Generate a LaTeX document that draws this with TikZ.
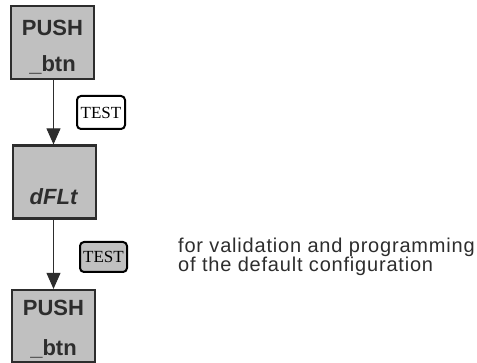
\documentclass[tikz,border=0pt]{standalone}
\usepackage{fontspec}
\setmainfont{Liberation Serif}
\setsansfont{Liberation Sans}
\newfontfamily\notefont[LetterSpace=4]{Liberation Sans}
\usetikzlibrary{arrows.meta}
\definecolor{boxgray}{RGB}{192,192,192}
\definecolor{boxedge}{RGB}{45,45,45}
\begin{document}
\begin{tikzpicture}[x=1pt,y=-1pt,
  statebox/.style={draw=boxedge,line width=2.2pt,fill=boxgray,minimum width=83pt,minimum height=73pt,inner sep=0pt,align=center,font=\sffamily\bfseries\fontsize{22}{36}\selectfont,text=boxedge},
  keybox/.style={draw=black,line width=2pt,rounded corners=4pt,inner sep=0pt,font=\rmfamily\fontsize{17}{17}\selectfont},
  flow/.style={line width=0.9pt,draw=boxedge,-{Triangle[length=16pt,width=14pt]}}]
\useasboundingbox (0,0) rectangle (477,363);
\node[statebox] (p1) at (52.5,42.5) {\rule{0pt}{24pt}PUSH\\\_btn};
\node[statebox] (d) at (54.5,182) {};
\node[font=\sffamily\bfseries\itshape\fontsize{22}{25}\selectfont,text=boxedge] (dl) at (53.5,197) {dFLt};
\node[statebox,minimum height=72pt,font=\sffamily\bfseries\fontsize{22}{40}\selectfont] (p2) at (53.5,326) {\rule{0pt}{22pt}PUSH\\\_btn};
\node[keybox,fill=white,minimum width=48pt,minimum height=33pt] (t1) at (101,112.5) {TEST};
\node[keybox,fill=boxgray,minimum width=47pt,minimum height=30pt] (t2) at (103.5,257) {TEST};
\draw[flow] (p1.south -| 53.5,0) -- (d.north -| 53.5,0);
\draw[flow] (d.south -| 53.5,0) -- (p2.north -| 53.5,0);
\node[anchor=west,align=left,font=\notefont\fontsize{20}{19}\selectfont,text=boxedge,inner sep=0pt] (txt) at (178,257) {for validation and programming\\of the default configuration};
\end{tikzpicture}
\end{document}
